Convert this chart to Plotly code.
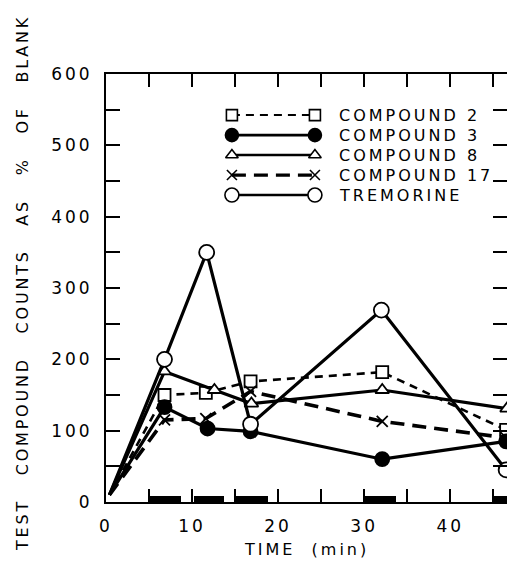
import plotly.graph_objects as go

# ---------------- data ----------------
t_c2 = [0.4, 6.8, 11.6, 16.8, 32.1, 46.5]
v_c2 = [10, 150, 153, 169, 182, 101]

t_c3 = [0.4, 6.8, 11.8, 16.8, 32.1, 46.5]
v_c3 = [10, 133, 103, 99, 60, 85]

t_c8 = [0.4, 6.8, 12.6, 16.9, 32.1, 46.6]
v_c8 = [10, 183, 157, 138, 157, 131]

t_c17 = [0.4, 6.8, 11.6, 16.8, 32.1, 46.5]
v_c17 = [10, 115, 117, 155, 113, 90]

t_trem = [0.4, 6.8, 11.7, 16.8, 32.0, 46.5]
v_trem = [10, 200, 350, 109, 269, 45]

# black bars along the time axis (start / end in minutes, height in % units)
bar_start = [5.0, 10.2, 14.9, 30.0, 44.8]
bar_end = [8.7, 13.7, 18.8, 33.7, 47.0]
bar_height = [8, 8, 8, 8, 8]

legend_names = ["COMPOUND 2", "COMPOUND 3", "COMPOUND 8", "COMPOUND 17", "TREMORINE"]

x_tickvals = [0, 5, 10, 15, 20, 25, 30, 35, 40, 45]
x_ticktext = ["0", "", "10", "", "20", "", "30", "", "40", ""]
y_tickvals = [0, 50, 100, 150, 200, 250, 300, 350, 400, 450, 500, 550, 600]
y_ticktext = ["0", "", "100", "", "200", "", "300", "", "400", "", "500", "", "600"]

# ---------------- styling ----------------
FONT = "DejaVu Sans"


def sp(s, ls=3):
    return f'<span style="letter-spacing:{ls}px">{s}</span>'


styles = [
    dict(t=t_c2, v=v_c2, sym="square", fill="white", size=12, dash="8px,6px", lw=2.6, llw=2.0),
    dict(t=t_c3, v=v_c3, sym="circle", fill="black", size=14, dash="solid", lw=3.2, llw=2.6),
    dict(t=t_c8, v=v_c8, sym="triangle-up", fill="white", size=12, dash="solid", lw=3.2, llw=2.6),
    dict(t=t_c17, v=v_c17, sym="x-thin", fill="black", size=11, dash="14px,8px", lw=3.6, llw=3.2),
    dict(t=t_trem, v=v_trem, sym="circle", fill="white", size=15, dash="solid", lw=3.2, llw=2.6),
]

fig = go.Figure()

# black time bars
fig.add_trace(go.Bar(
    x=[(a + b) / 2 for a, b in zip(bar_start, bar_end)],
    y=bar_height,
    width=[b - a for a, b in zip(bar_start, bar_end)],
    marker=dict(color="black", line=dict(width=0)),
    showlegend=False, hoverinfo="skip",
))

for name, s in zip(legend_names, styles):
    fig.add_trace(go.Scatter(
        x=s["t"], y=s["v"], mode="lines",
        line=dict(color="black", width=s["lw"], dash=s["dash"]),
        showlegend=False, hoverinfo="skip",
    ))
    fig.add_trace(go.Scatter(
        x=s["t"][1:], y=s["v"][1:], mode="markers", name=name,
        marker=dict(symbol=s["sym"], size=s["size"], color=s["fill"],
                    line=dict(color="black", width=1.8)),
        showlegend=False,
    ))

# ---------------- custom legend (paper-like overlay axes) ----------------
leg_x0, leg_x1, leg_tx = 0.314, 0.521, 0.577
leg_y0, leg_dy = 0.904, 0.0467
for i, (name, s) in enumerate(zip(legend_names, styles)):
    yy = leg_y0 - i * leg_dy
    fig.add_trace(go.Scatter(
        x=[leg_x0, leg_x1], y=[yy, yy], mode="lines+markers",
        xaxis="x2", yaxis="y2",
        line=dict(color="black", width=s["llw"], dash=s["dash"]),
        marker=dict(symbol=s["sym"], size=s["size"] - 1, color=s["fill"],
                    line=dict(color="black", width=1.6)),
        showlegend=False, hoverinfo="skip",
    ))
    fig.add_annotation(
        x=leg_tx, y=yy, xref="paper", yref="paper", xanchor="left", yanchor="middle",
        text=sp(name), showarrow=False, font=dict(family=FONT, size=16, color="black"),
    )

axis_common = dict(
    showline=True, linecolor="black", linewidth=2, mirror="allticks",
    ticks="inside", tickcolor="black", tickwidth=1.5,
    showgrid=False, zeroline=False, automargin=False,
    tickfont=dict(family=FONT, size=17, color="black"),
)

fig.update_layout(
    width=507, height=565,
    margin=dict(l=106, r=0, t=74, b=63, autoexpand=False),
    paper_bgcolor="white", plot_bgcolor="white",
    showlegend=False,
    xaxis=dict(range=[0, 46.6], tickvals=x_tickvals, ticktext=[sp(t) for t in x_ticktext],
               ticklen=13, ticklabelstandoff=8, **axis_common),
    yaxis=dict(range=[0, 600], tickvals=y_tickvals, ticktext=[sp(t) for t in y_ticktext],
               ticklen=14, ticklabelstandoff=8, **axis_common),
    xaxis2=dict(overlaying="x", range=[0, 1], visible=False, automargin=False),
    yaxis2=dict(overlaying="y", range=[0, 1], visible=False, automargin=False),
    bargap=0,
)

# axis titles
fig.add_annotation(
    x=0.5, y=0, xref="paper", yref="paper", xanchor="center", yanchor="top", yshift=-36,
    text=sp("TIME  (min)"), showarrow=False, font=dict(family=FONT, size=16, color="black"),
)
fig.add_annotation(
    x=0, y=0.5, xref="paper", yref="paper", xanchor="center", yanchor="middle",
    xshift=-84, yshift=5, textangle=-90,
    text=sp("TEST   COMPOUND   COUNTS   AS   %   OF   BLANK", 2.8), showarrow=False,
    font=dict(family=FONT, size=16, color="black"),
)

# remove the default page margin / scrollbars so the figure fills the window exactly
fig.write_html(
    "out.html",
    config={"displayModeBar": False},
    post_script="document.body.style.margin='0';document.documentElement.style.overflow='hidden';document.body.style.overflow='hidden';",
)
